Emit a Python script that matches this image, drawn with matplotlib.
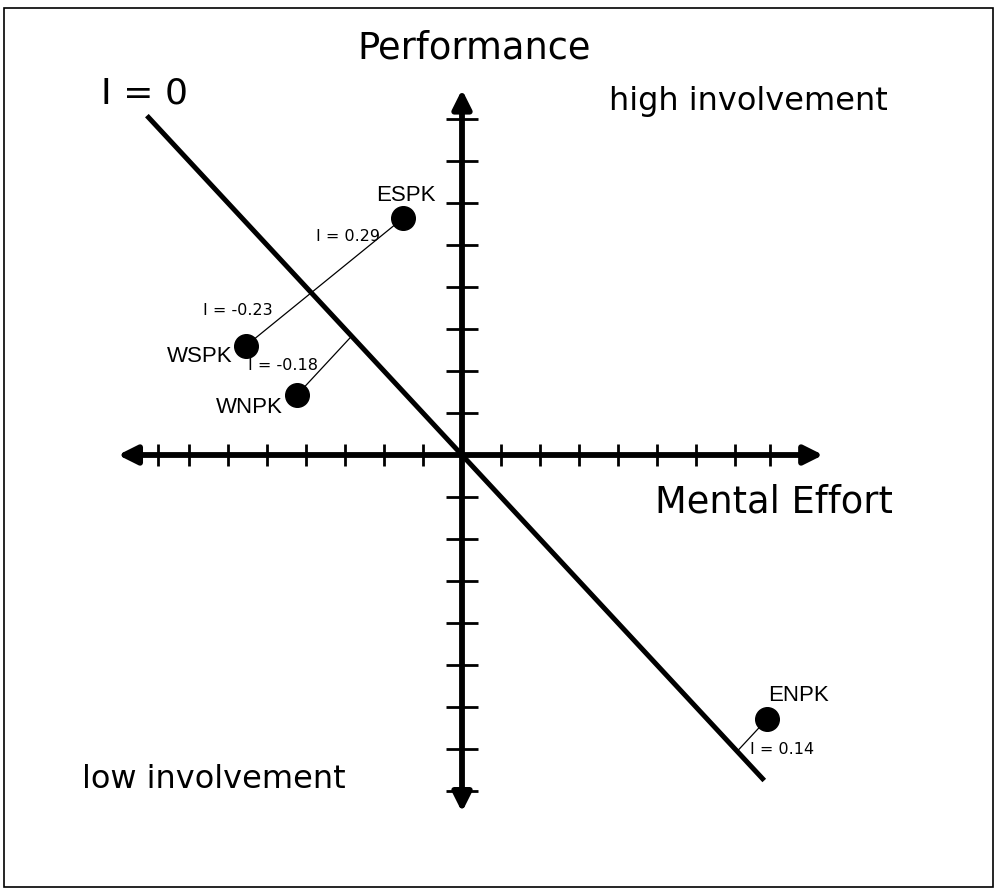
import matplotlib.pyplot as plt
from matplotlib.patches import Rectangle

# groups plotted as (mental effort, performance) in axis units
groups = ['ESPK', 'WSPK', 'WNPK', 'ENPK']
effort = [-1.51, -5.54, -4.23, 7.82]
performance = [5.64, 2.60, 1.43, -6.29]
involvement = ['0.29', '-0.23', '-0.18', '0.14']

x_ticks = [-7.8, -7, -6, -5, -4, -3, -2, -1, 1, 2, 3, 4, 5, 6, 7, 7.9]
y_ticks = [-8, -7, -6, -5, -4, -3, -2, -1, 1, 2, 3, 4, 5, 6, 7, 8]
zero_line_x = [-8.08, 7.75]

fig = plt.figure(figsize=(9.97, 8.91), dpi=100)
ax = fig.add_axes([0, 0, 1, 1])
ax.set_xlim(-462 / 39, (997 - 462) / 39)
ax.set_ylim(-436 / 42, 455 / 42)
ax.axis('off')

# frame around the figure
fig.patches.append(Rectangle((4 / 997, 4 / 891), 989 / 997, 879 / 891, transform=fig.transFigure,
                             fill=False, edgecolor='black', lw=1.2))

# axes with arrow heads
ax.annotate('', xy=(9.26, 0), xytext=(-8.82, 0),
            arrowprops=dict(arrowstyle='<|-|>', lw=4.2, color='black', mutation_scale=28, shrinkA=0, shrinkB=0))
ax.annotate('', xy=(0, 8.7), xytext=(0, -8.5),
            arrowprops=dict(arrowstyle='<|-|>', lw=4.2, color='black', mutation_scale=28, shrinkA=0, shrinkB=0))
ax.plot(x_ticks, [0] * len(x_ticks), ls='none', marker='|', ms=16, mew=2, color='black')
ax.plot([0] * len(y_ticks), y_ticks, ls='none', marker='_', ms=23, mew=2, color='black')

# I = 0 diagonal
ax.plot(zero_line_x, [-v for v in zero_line_x], color='black', lw=3.6, solid_capstyle='butt')

# distance lines to the I = 0 line
ax.plot(effort[:2], performance[:2], color='black', lw=0.9)
for i in (2, 3):
    a, b = effort[i], performance[i]
    ax.plot([a, (a - b) / 2], [b, (b - a) / 2], color='black', lw=0.9)

ax.scatter(effort, performance, s=17 ** 2, color='black', zorder=5)

label_offsets = {'ESPK': (2, 16, 'center'), 'WSPK': (-10, -8, 'right'),
                 'WNPK': (-10, -9, 'right'), 'ENPK': (1, 17, 'left')}
for g, x, y in zip(groups, effort, performance):
    dx, dy, ha = label_offsets[g]
    ax.annotate(g, (x, y), xytext=(dx, dy), textcoords='offset points', ha=ha, va='center',
                fontsize=16, family='Liberation Sans')

i_pos = [(-2.1, 5.21, 'right'), (-4.85, 3.43, 'right'), (-3.69, 2.12, 'right'), (7.38, -7.02, 'left')]
for val, (x, y, ha) in zip(involvement, i_pos):
    ax.text(x, y, 'I = ' + val, ha=ha, va='center', fontsize=11.5)

ax.text(0.31, 9.43, 'Performance', ha='center', va='baseline', fontsize=26.5)
ax.text(-8.13, 8.38, 'I = 0', ha='center', va='baseline', fontsize=26)
ax.text(3.78, 8.21, 'high involvement', ha='left', va='baseline', fontsize=23)
ax.text(-9.75, -7.93, 'low involvement', ha='left', va='baseline', fontsize=23)
ax.text(4.95, -1.38, 'Mental Effort', ha='left', va='baseline', fontsize=26.5)

fig.savefig('out.png', dpi=100)
